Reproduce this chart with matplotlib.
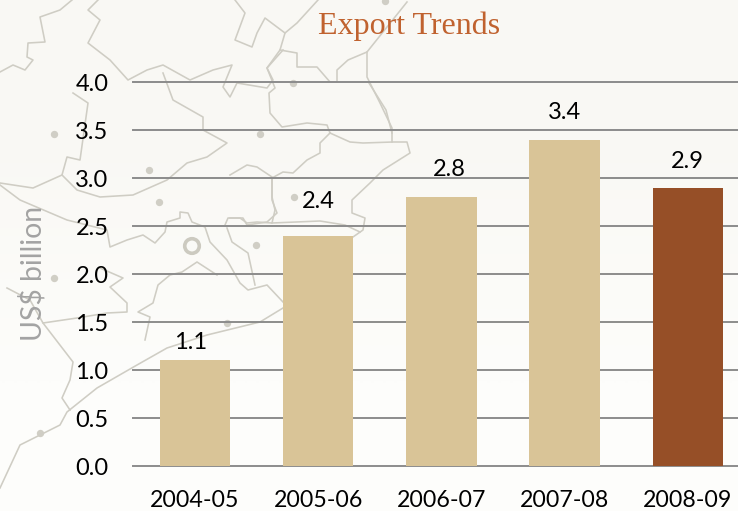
# export trends bar chart

import matplotlib
matplotlib.use('Agg')
import matplotlib.pyplot as plt
import numpy as np

years = ['2004-05', '2005-06', '2006-07', '2007-08', '2008-09']
exports = [1.1, 2.4, 2.8, 3.4, 2.9]
bar_colors = ['#D9C497', '#D9C497', '#D9C497', '#D9C497', '#964F27']
yticks = [0.0, 0.5, 1.0, 1.5, 2.0, 2.5, 3.0, 3.5, 4.0]

# the value labels sit unevenly in the original, offsets in points
label_dx = [-3.5, 0, 6, 0, 0]
label_dy = [13, 24.5, 20, 19.5, 18.7]

# faint map behind the chart, in image pixels
map_lines = [
    [(0, 72), (13, 65), (25, 70), (33, 60), (27, 57), (28, 43), (45, 42), (40, 17), (60, 10), (72, 0)],
    [(98, 0), (88, 10), (100, 20), (88, 43), (110, 60), (128, 80), (147, 70), (163, 65), (190, 80),
     (213, 70), (232, 65), (223, 87), (230, 97), (237, 83), (267, 88), (273, 80), (267, 68), (283, 50)],
    [(163, 73), (173, 100), (203, 117), (203, 130), (227, 143), (207, 157), (187, 163), (167, 180),
     (133, 195), (100, 197), (77, 190), (62, 175), (67, 157), (80, 160), (88, 103), (73, 93)],
    [(0, 183), (33, 188), (62, 175)],
    [(0, 185), (20, 200), (67, 220), (107, 230), (110, 247), (127, 240), (143, 235), (155, 243),
     (165, 232), (167, 222), (180, 218), (180, 212), (188, 213), (192, 222), (205, 227), (210, 242),
     (227, 260), (240, 283), (248, 290), (267, 285), (283, 302)],
    [(318, 0), (297, 23), (285, 33), (265, 18), (257, 33), (252, 47), (235, 40), (245, 13), (235, 0)],
    [(285, 33), (280, 50), (297, 53), (297, 67), (317, 67), (330, 82), (337, 82), (337, 70), (348, 60),
     (367, 52), (407, 2)],
    [(367, 52), (367, 77), (380, 103), (392, 128), (392, 142)],
    [(280, 50), (267, 68), (275, 88), (269, 93), (270, 113), (282, 127), (307, 123), (327, 125), (330, 133)],
    [(330, 133), (350, 142), (363, 143), (393, 142), (407, 142), (410, 153), (383, 170), (370, 183),
     (352, 200), (352, 213), (365, 218), (363, 230), (353, 237)],
    [(330, 133), (320, 143), (320, 153), (307, 160), (293, 173), (283, 172), (272, 178), (272, 197),
     (275, 210), (272, 223), (257, 222), (247, 223), (240, 218), (230, 218)],
    [(272, 177), (257, 167), (247, 165), (230, 175)],
    [(272, 223), (320, 221), (345, 225), (360, 232)],
    [(225, 225), (228, 218), (243, 218), (247, 225), (267, 222), (277, 213), (272, 200), (272, 178)],
    [(227, 228), (232, 242), (248, 253), (255, 285)],
    [(145, 340), (150, 317), (138, 312), (153, 303), (158, 285), (170, 275), (182, 272), (197, 262), (217, 275)],
    [(100, 268), (123, 278), (110, 287), (127, 303), (127, 312), (107, 313), (77, 318), (43, 323), (30, 300), (7, 288)],
    [(43, 323), (73, 362), (70, 380), (62, 398), (70, 410)],
    [(0, 488), (20, 445), (40, 435), (60, 425), (67, 412), (97, 388), (137, 365), (167, 348), (207, 335),
     (260, 322), (283, 308)],
    [(369, 83), (386, 110), (392, 133)],
]
map_dots = [(54, 134), (149, 170), (159, 202), (260, 134), (293, 83), (294, 197), (256, 245),
            (54, 278), (227, 323), (40, 433), (385, 1)]
map_ring = (192, 246)

W, H = 738, 511
fig = plt.figure(figsize=(W / 100, H / 100), dpi=100)

# background and map
bg = fig.add_axes([0, 0, 1, 1], zorder=0)
shade = np.array([[0.0], [1.0]])
bg.imshow(shade, extent=(0, W, H, 0), aspect='auto', interpolation='bilinear',
          cmap=matplotlib.colors.LinearSegmentedColormap.from_list('page', ['#F9F8F4', '#FDFDFB']))
for line in map_lines:
    xs, ys = zip(*line)
    bg.plot(xs, ys, color='#CFCDC4', lw=1.15, solid_joinstyle='round')
dx, dy = zip(*map_dots)
bg.scatter(dx, dy, s=28, color='#D0CEC5', linewidths=0)
bg.scatter([map_ring[0]], [map_ring[1]], s=110, facecolor='none', edgecolor='#CCCAC0', linewidths=2.6)
bg.set_xlim(0, W)
bg.set_ylim(H, 0)
bg.axis('off')

# chart, runs a little past the right edge like the original
ax = fig.add_axes([133.4 / W, (H - 466) / H, 616 / W, 384 / H], zorder=1)
ax.patch.set_alpha(0)
x = np.arange(len(years))
ax.set_axisbelow(True)
ax.yaxis.grid(True, color='#8C8C8C', lw=1.4)
ax.bar(x, exports, width=0.572, color=bar_colors, zorder=3)

for i, v in enumerate(exports):
    ax.annotate(f'{v:.1f}', xy=(x[i], v), xytext=(label_dx[i], label_dy[i]), textcoords='offset points',
                ha='center', va='center', fontsize=17, family='Lato', color='black')

ax.set_xlim(-0.5, 4.5)
ax.set_ylim(0, 4)
ax.set_xticks(x)
ax.set_xticklabels(years, fontsize=16.7, family='Lato', color='black')
ax.set_yticks(yticks)
ax.set_yticklabels([f'{t:.1f}' for t in yticks], fontsize=17, family='Lato', color='black')
ax.tick_params(axis='both', length=0)
ax.tick_params(axis='x', pad=17)
ax.tick_params(axis='y', pad=18)
for gl in ax.get_ygridlines():
    gl.set_clip_on(False)
for name in ['top', 'right', 'left', 'bottom']:
    ax.spines[name].set_visible(False)

fig.text(409 / W, 1 - 26 / H, 'Export Trends', ha='center', va='center',
         fontsize=23, family='Liberation Serif', color='#C0622F')
fig.text(33 / W, 1 - 273 / H, 'US$ billion', ha='center', va='center', rotation=90,
         fontsize=20.4, family='Lato', color='#A3A3A3')

fig.savefig('out.png', dpi=100)
